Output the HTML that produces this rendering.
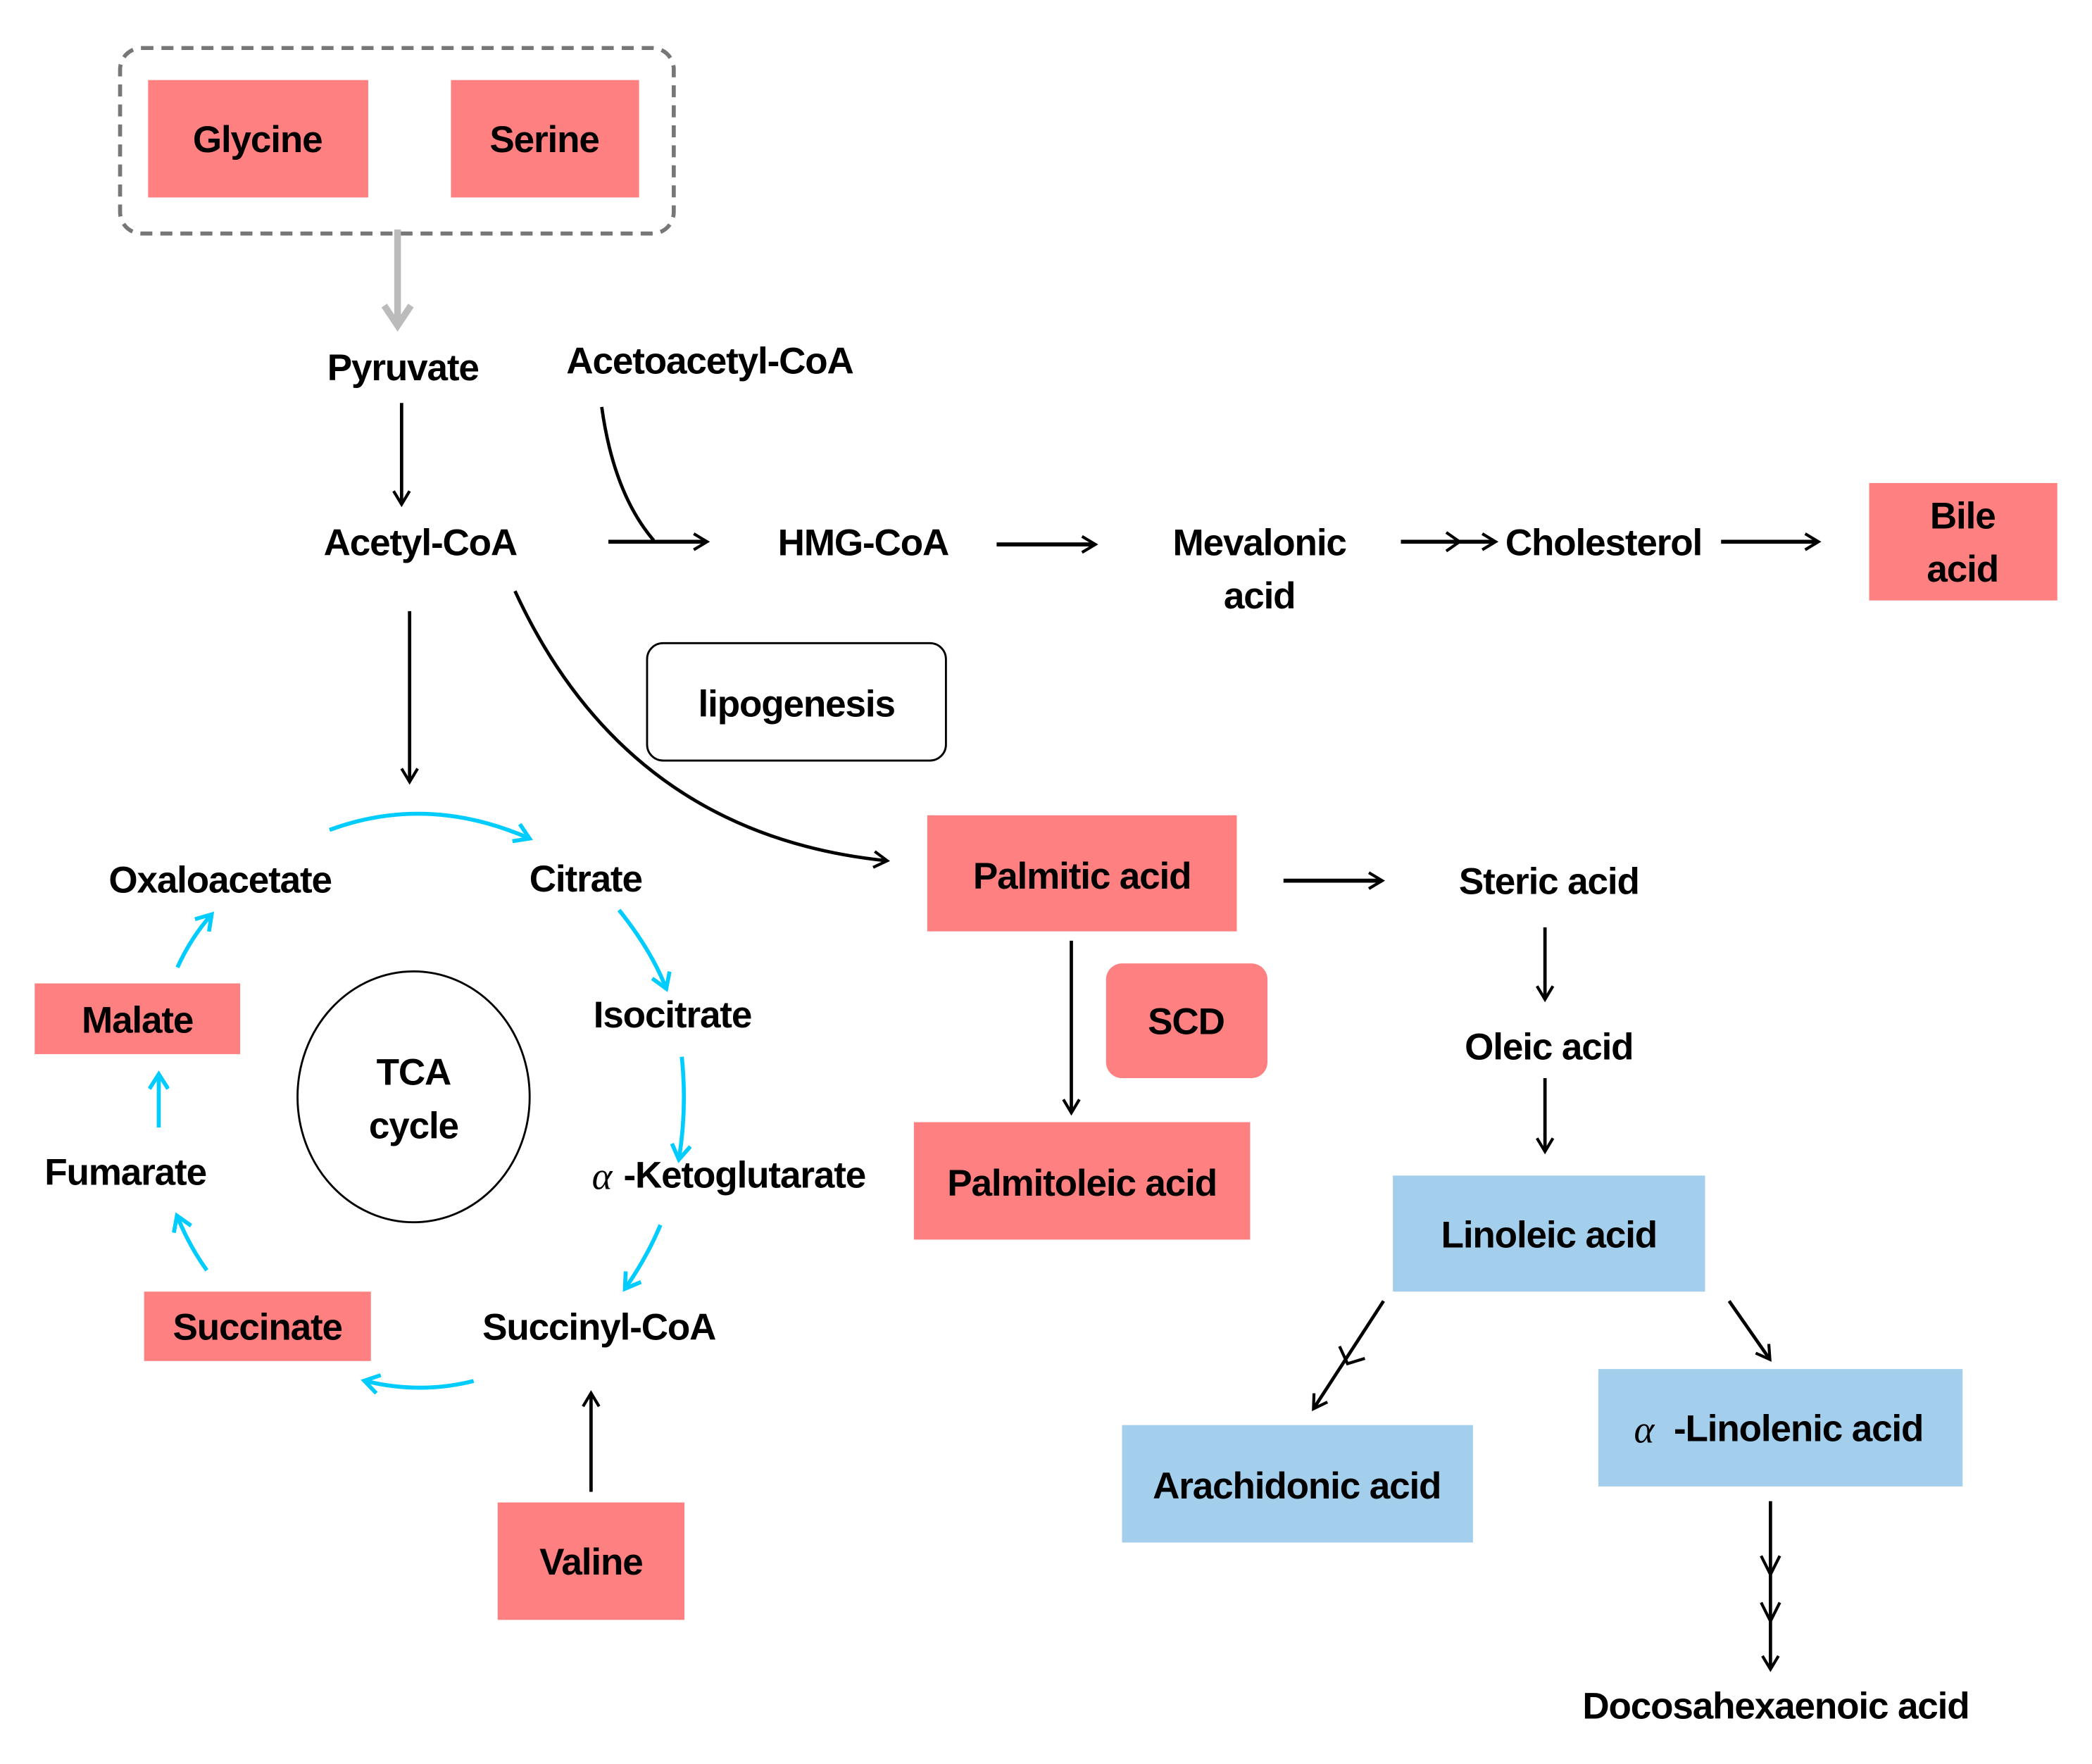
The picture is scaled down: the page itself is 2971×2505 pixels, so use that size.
<!DOCTYPE html>
<html><head><meta charset="utf-8"><style>
html,body{margin:0;padding:0;background:#fff;width:2971px;height:2505px;overflow:hidden}
svg{display:block}
text{font-family:"Liberation Sans",Arial,sans-serif;font-weight:bold;font-size:28px;letter-spacing:-0.6px;fill:#000;text-anchor:middle}
.a{font-family:"Liberation Serif",serif;font-style:italic;font-weight:normal;font-size:29px}
</style></head><body>
<svg width="2971" height="2505" viewBox="0 0 1568 1322" preserveAspectRatio="none" xmlns="http://www.w3.org/2000/svg">
<defs>
<marker id="k" markerWidth="14" markerHeight="14" refX="10" refY="7" orient="auto" markerUnits="userSpaceOnUse"><path d="M1,1 L11,7 L1,13" fill="none" stroke="#000" stroke-width="2.2"/></marker>
<marker id="c" markerWidth="16" markerHeight="16" refX="11" refY="8" orient="auto" markerUnits="userSpaceOnUse"><path d="M1,1 L12,8 L1,15" fill="none" stroke="#00CCFF" stroke-width="3"/></marker>
<marker id="g" markerWidth="24" markerHeight="24" refX="16" refY="12" orient="auto" markerUnits="userSpaceOnUse"><path d="M2,2 L17,12 L2,22" fill="none" stroke="#bbb" stroke-width="5"/></marker>
</defs>
<rect x="90" y="36" width="415" height="139" rx="16" fill="none" stroke="#777" stroke-width="3" stroke-dasharray="9,6"/>
<rect x="111" y="60" width="165" height="88" fill="#FF8080"/>
<rect x="338" y="60" width="141" height="88" fill="#FF8080"/>
<text x="193" y="114">Glycine</text>
<text x="408" y="114">Serine</text>
<line x1="298" y1="172" x2="298" y2="243" stroke="#bbb" stroke-width="5" marker-end="url(#g)"/>
<text x="302" y="285">Pyruvate</text>
<text x="532" y="280">Acetoacetyl-CoA</text>
<line x1="301" y1="302" x2="301" y2="377" stroke="#000" stroke-width="2.5" marker-end="url(#k)"/>
<text x="315" y="416">Acetyl-CoA</text>
<path d="M451,305 Q460,370 490,405" fill="none" stroke="#000" stroke-width="2.5"/>
<line x1="456" y1="406" x2="529" y2="406" stroke="#000" stroke-width="3" marker-end="url(#k)"/>
<text x="647" y="416">HMG-CoA</text>
<line x1="747" y1="408" x2="820" y2="408" stroke="#000" stroke-width="3" marker-end="url(#k)"/>
<text x="944" y="416">Mevalonic</text>
<text x="944" y="456">acid</text>
<line x1="1050" y1="406" x2="1120" y2="406" stroke="#000" stroke-width="3" marker-end="url(#k)"/>
<path d="M1084,399 L1094,406 L1084,413" fill="none" stroke="#000" stroke-width="2.2"/>
<text x="1202" y="416">Cholesterol</text>
<line x1="1290" y1="406" x2="1362" y2="406" stroke="#000" stroke-width="3" marker-end="url(#k)"/>
<rect x="1401" y="362" width="141" height="88" fill="#FF8080"/>
<text x="1471" y="396">Bile</text>
<text x="1471" y="436">acid</text>
<rect x="485" y="482" width="224" height="88" rx="12" fill="#fff" stroke="#000" stroke-width="1.5"/>
<text x="597" y="537">lipogenesis</text>
<line x1="307" y1="458" x2="307" y2="585" stroke="#000" stroke-width="2.5" marker-end="url(#k)"/>
<path d="M386,443 Q470,625 664,645" fill="none" stroke="#000" stroke-width="2.5" marker-end="url(#k)"/>
<rect x="695" y="611" width="232" height="87" fill="#FF8080"/>
<text x="811" y="666">Palmitic acid</text>
<line x1="962" y1="660" x2="1035" y2="660" stroke="#000" stroke-width="3" marker-end="url(#k)"/>
<text x="1161" y="670">Steric acid</text>
<line x1="1158" y1="695" x2="1158" y2="748" stroke="#000" stroke-width="2.5" marker-end="url(#k)"/>
<text x="1161" y="794">Oleic acid</text>
<line x1="1158" y1="808" x2="1158" y2="862" stroke="#000" stroke-width="2.5" marker-end="url(#k)"/>
<rect x="1044" y="881" width="234" height="87" fill="#A3CEEC"/>
<text x="1161" y="935">Linoleic acid</text>
<line x1="1037" y1="975" x2="985" y2="1055" stroke="#000" stroke-width="2.5" marker-end="url(#k)"/>
<path d="M1004,1009 L1010,1022 L1023,1018" fill="none" stroke="#000" stroke-width="2.2"/>
<rect x="841" y="1068" width="263" height="88" fill="#A3CEEC"/>
<text x="972" y="1123">Arachidonic acid</text>
<line x1="1296" y1="975" x2="1326" y2="1018" stroke="#000" stroke-width="2.5" marker-end="url(#k)"/>
<rect x="1198" y="1026" width="273" height="88" fill="#A3CEEC"/>
<text x="1232" y="1081" class="a">α</text>
<text x="1348" y="1080">-Linolenic acid</text>
<line x1="1327" y1="1125" x2="1327" y2="1250" stroke="#000" stroke-width="2.5" marker-end="url(#k)"/>
<path d="M1320,1166 L1327,1180 L1334,1166 M1320,1201 L1327,1215 L1334,1201" fill="none" stroke="#000" stroke-width="2.2"/>
<text x="1331" y="1288">Docosahexaenoic acid</text>
<line x1="803" y1="705" x2="803" y2="833" stroke="#000" stroke-width="2.5" marker-end="url(#k)"/>
<rect x="829" y="722" width="121" height="86" rx="12" fill="#FF8080"/>
<text x="889" y="775">SCD</text>
<rect x="685" y="841" width="252" height="88" fill="#FF8080"/>
<text x="811" y="896">Palmitoleic acid</text>
<ellipse cx="310" cy="822" rx="87" ry="94" fill="none" stroke="#000" stroke-width="1.5"/>
<text x="310" y="813">TCA</text>
<text x="310" y="853">cycle</text>
<text x="165" y="669">Oxaloacetate</text>
<text x="439" y="668">Citrate</text>
<text x="504" y="770">Isocitrate</text>
<text x="451" y="891" class="a">α</text>
<text x="558" y="890">-Ketoglutarate</text>
<text x="449" y="1004">Succinyl-CoA</text>
<rect x="108" y="968" width="170" height="52" fill="#FF8080"/>
<text x="193" y="1004">Succinate</text>
<text x="94" y="888">Fumarate</text>
<rect x="26" y="737" width="154" height="53" fill="#FF8080"/>
<text x="103" y="774">Malate</text>
<rect x="373" y="1126" width="140" height="88" fill="#FF8080"/>
<text x="443" y="1180">Valine</text>
<line x1="443" y1="1118" x2="443" y2="1045" stroke="#000" stroke-width="2.5" marker-end="url(#k)"/>
<g fill="none" stroke="#00CCFF" stroke-width="3">
<path d="M247,622 Q320,595 396,628" marker-end="url(#c)"/>
<path d="M464,682 Q488,712 499,740" marker-end="url(#c)"/>
<path d="M511,792 Q515,830 509,868" marker-end="url(#c)"/>
<path d="M495,918 Q485,942 469,965" marker-end="url(#c)"/>
<path d="M355,1035 Q315,1045 274,1035" marker-end="url(#c)"/>
<path d="M155,952 Q142,934 133,912" marker-end="url(#c)"/>
<path d="M119,845 L119,806" marker-end="url(#c)"/>
<path d="M133,725 Q143,703 158,686" marker-end="url(#c)"/>
</g>
</svg>
</body></html>
